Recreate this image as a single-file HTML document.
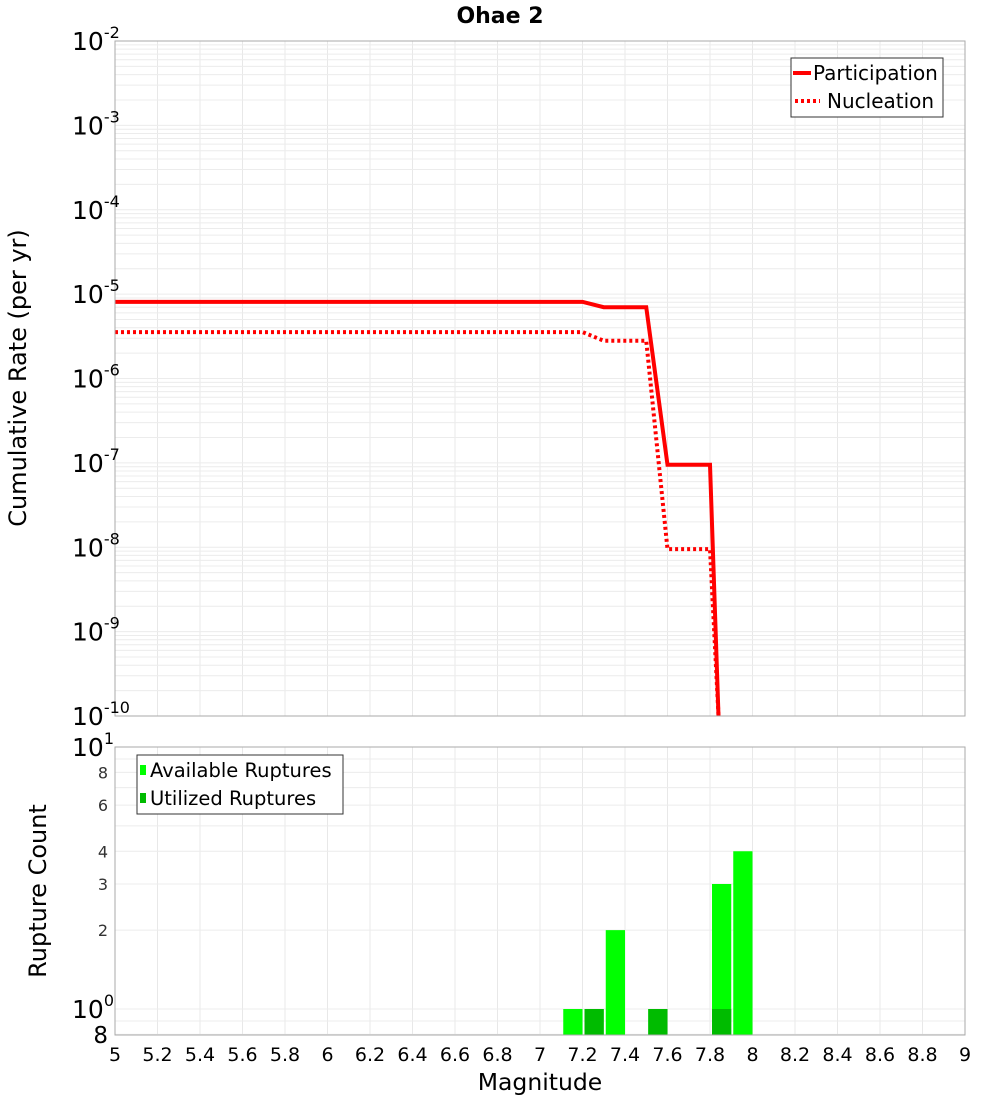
<!DOCTYPE html>
<html><head><meta charset="utf-8"><style>
body{margin:0;background:#fff;}
svg text{font-family:"DejaVu Sans","Liberation Sans",sans-serif;}
</style></head><body>
<svg id="chart" width="1000" height="1100" xmlns="http://www.w3.org/2000/svg">
<rect width="1000" height="1100" fill="#fff"/>
<g id="grid"></g>
<g id="marks"></g>
<g id="axes"></g>
</svg>
<script>
const partMags=[5,7.2,7.3,7.5,7.6,7.8,7.84];
const partRates=[8.1e-6,8.1e-6,7.0e-6,7.0e-6,9.5e-8,9.5e-8,1e-11];
const nuclMags=[5,7.2,7.3,7.5,7.6,7.8,7.84];
const nuclRates=[3.55e-6,3.55e-6,2.8e-6,2.8e-6,9.5e-9,9.5e-9,1e-11];
const barMags=[7.15,7.25,7.35,7.55,7.85,7.95];
const availCounts=[1,1,2,1,3,4];
const utilMags=[7.25,7.55,7.85];
const utilCounts=[1,1,1];
const xTicks=[5,5.2,5.4,5.6,5.8,6,6.2,6.4,6.6,6.8,7,7.2,7.4,7.6,7.8,8,8.2,8.4,8.6,8.8,9];
const topExps=[-2,-3,-4,-5,-6,-7,-8,-9,-10];
const botTicks=[2,3,4,6,8];

const NS="http://www.w3.org/2000/svg";
const X0=115,X1=965,T0=41,T1=716,B0=747,B1=1035;
const xs=m=>X0+(m-5)/4*(X1-X0);
const yT=v=>{let y=T0+(-2-Math.log10(v))*(T1-T0)/8;return Math.min(y,T1);};
const yB=v=>{let y=1009-Math.log10(v)*262;return Math.min(y,B1);};
function mk(tag,attrs,parent,txt){const e=document.createElementNS(NS,tag);for(const k in attrs)e.setAttribute(k,attrs[k]);if(txt!==undefined)e.textContent=txt;parent.appendChild(e);return e;}
const grid=document.getElementById('grid'),marks=document.getElementById('marks'),axes=document.getElementById('axes');

for(const t of xTicks){
 let l=mk('line',{x1:xs(t),x2:xs(t),y1:T0,y2:T1,stroke:'#e8e8e8'},grid);
 
 
 let l2=mk('line',{x1:xs(t),x2:xs(t),y1:B0,y2:B1,stroke:'#e8e8e8'},grid);
 
 
}
for(let e=-10;e<-2;e++){for(let k=1;k<10;k++){const y=yT(k*Math.pow(10,e));
 let l=mk('line',{x1:X0,x2:X1,y1:y,y2:y,stroke:'#ececec'},grid);
 
 }}
for(const v of [0.8,0.9,1,2,3,4,5,6,7,8,9]){const y=yB(v);
 let l=mk('line',{x1:X0,x2:X1,y1:y,y2:y,stroke:'#ececec'},grid);
 
 }

let f1=mk('rect',{x:X0,y:T0,width:X1-X0,height:T1-T0,fill:'none',stroke:'#aaa'},axes);

let f2=mk('rect',{x:X0,y:B0,width:X1-X0,height:B1-B0,fill:'none',stroke:'#aaa'},axes);


function pts(ms,vs){return ms.map((m,i)=>xs(m)+','+yT(vs[i])).join(' ');}
let pl=mk('polyline',{points:pts(partMags,partRates),fill:'none',stroke:'#ff0000','stroke-width':4},marks);

let nl=mk('polyline',{points:pts(nuclMags,nuclRates),fill:'none',stroke:'#ff0000','stroke-width':4,'stroke-dasharray':'3,3'},marks);


function bar(m,c,col,name){const x=xs(m-0.05)+2,w=xs(m+0.05)-x,y=yB(c);
 let r=mk('rect',{x:x,y:y,width:w,height:B1-y,fill:col},marks);
 }
barMags.forEach((m,i)=>bar(m,availCounts[i],'#00ff00','available-bar'));
utilMags.forEach((m,i)=>bar(m,utilCounts[i],'#00bb00','utilized-bar'));

for(const t of xTicks){let s=Number.isInteger(t)?String(t):t.toFixed(1);
 let tx=mk('text',{x:xs(t),y:1061,'font-size':19,'text-anchor':'middle'},axes,s);
 }
for(const e of topExps){const y=yT(Math.pow(10,e));
 let tx=mk('text',{x:72,y:y+9,'font-size':25},axes,'10');
 
 mk('tspan',{dy:-12,'font-size':16},tx,String(e));}
let t1=mk('text',{x:72,y:756,'font-size':25},axes,'10');mk('tspan',{dy:-12,'font-size':16},t1,'1');
let t0=mk('text',{x:72,y:1018,'font-size':25},axes,'10');mk('tspan',{dy:-12,'font-size':16},t0,'0');
for(const v of botTicks){let tx=mk('text',{x:108,y:yB(v)+6,'font-size':16,'text-anchor':'end','fill':'#333'},axes,String(v));
 }
let t8=mk('text',{x:108,y:1043,'font-size':23,'text-anchor':'end'},axes,'8');
</script>
<svg style="position:absolute;left:0;top:0" width="1000" height="1100" xmlns="http://www.w3.org/2000/svg">
<text x="500" y="23" font-size="22" font-weight="bold" text-anchor="middle" font-family="DejaVu Sans, Liberation Sans, sans-serif">Ohae 2</text>
<text transform="translate(26,378) rotate(-90)" font-size="24" text-anchor="middle" font-family="DejaVu Sans, Liberation Sans, sans-serif">Cumulative Rate (per yr)</text>
<text transform="translate(46,891) rotate(-90)" font-size="24" text-anchor="middle" font-family="DejaVu Sans, Liberation Sans, sans-serif">Rupture Count</text>
<text x="540" y="1090" font-size="23.5" text-anchor="middle" font-family="DejaVu Sans, Liberation Sans, sans-serif">Magnitude</text>
<g font-family="DejaVu Sans, Liberation Sans, sans-serif" font-size="20">
<rect x="791" y="58" width="152" height="59" fill="#fff" stroke="#333"/>
<line x1="793" y1="73" x2="811" y2="73" stroke="#f00" stroke-width="4"/>
<text x="813" y="80">Participation</text>
<line x1="795" y1="101" x2="820" y2="101" stroke="#f00" stroke-width="4" stroke-dasharray="3,3"/>
<text x="827" y="108">Nucleation</text>
</g>
<g font-family="DejaVu Sans, Liberation Sans, sans-serif" font-size="19.5">
<rect x="137" y="755" width="206" height="59" fill="#fff" stroke="#333"/>
<rect x="140" y="765" width="6" height="10" fill="#00ff00"/>
<text x="150" y="777">Available Ruptures</text>
<rect x="140" y="793" width="6" height="10" fill="#00bb00"/>
<text x="150" y="805">Utilized Ruptures</text>
</g>
</svg>
</body></html>
